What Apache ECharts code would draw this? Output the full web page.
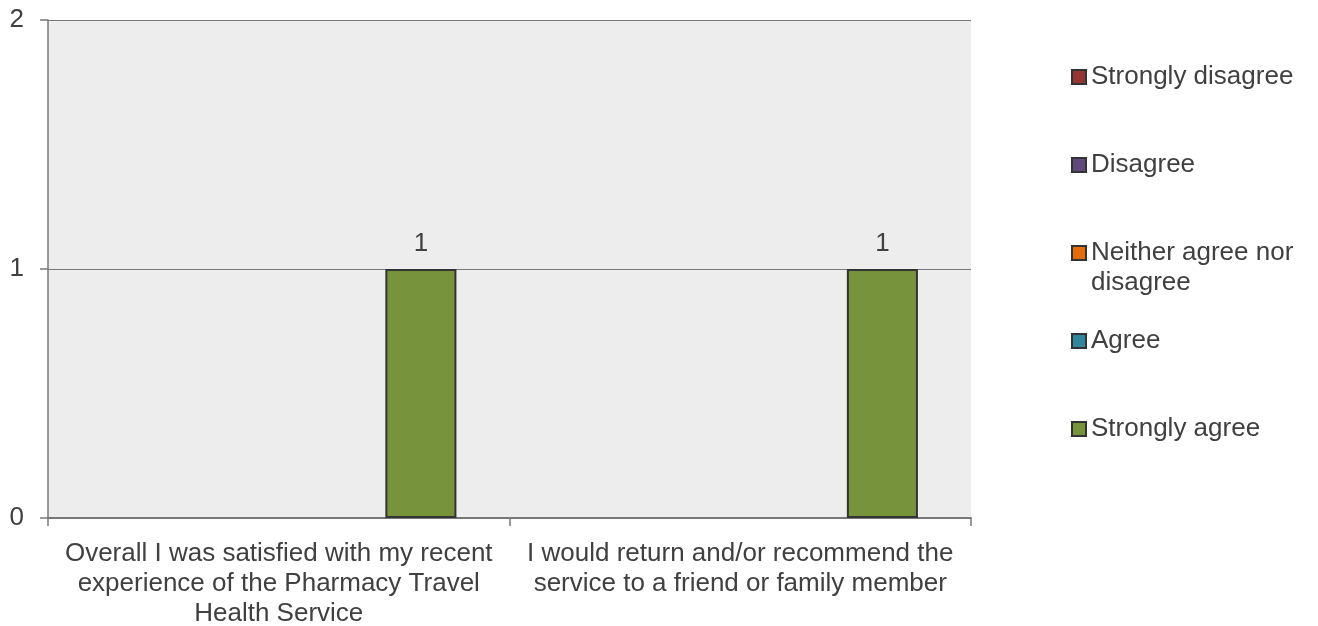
<!DOCTYPE html>
<html>
<head>
<meta charset="utf-8">
<script src="https://cdn.jsdelivr.net/npm/echarts@6/dist/echarts.min.js"></script>
<style>html,body{margin:0;padding:0;background:#fff}#c{width:1318px;height:626px}</style>
</head>
<body>
<div id="c"></div>
<script>
var categories = [
  "Overall I was satisfied with my recent\nexperience of the Pharmacy Travel\nHealth Service",
  "I would return and/or recommend the\nservice to a friend or family member"
];
var seriesNames = ["Strongly disagree", "Disagree", "Neither agree nor disagree", "Agree", "Strongly agree"];
var stronglyDisagree = [0, 0];
var disagree = [0, 0];
var neither = [0, 0];
var agree = [0, 0];
var stronglyAgree = [1, 1];
var seriesColors = ["#963634", "#604A7B", "#E46C0A", "#31859C", "#77933C"];
var yTicks = { min: 0, max: 2, interval: 1 };

var FONT = "Liberation Sans";
var TXT = "#404040";
var FS = 26;
var values = [stronglyDisagree, disagree, neither, agree, stronglyAgree];

var series = seriesNames.map(function (n, i) {
  return {
    name: n,
    type: "bar",
    barGap: 0,
    barCategoryGap: "23%",
    data: values[i].map(function (v) { return v === 0 ? "-" : v; }),
    itemStyle: { color: seriesColors[i], borderColor: "#333333", borderWidth: 2 },
    label: { show: true, position: "top", distance: 12, color: TXT, fontFamily: FONT, fontSize: FS },
    emphasis: { disabled: true }
  };
});

var legendCenters = [77, 165, 253, 341, 429];
var legends = seriesNames.map(function (n, i) {
  var two = (i === 2);
  return {
    data: [n],
    orient: "vertical",
    left: 1071,
    top: legendCenters[i] - 15,
    icon: "rect",
    itemWidth: 14,
    itemHeight: 14,
    itemGap: 0,
    padding: 0,
    selectedMode: false,
    formatter: two ? function () { return "Neither agree nor"; } : undefined,
    textStyle: { color: TXT, fontFamily: FONT, fontSize: FS, lineHeight: 30 }
  };
});

var chart = echarts.init(document.getElementById("c"), null, { renderer: "canvas" });
chart.setOption({
  animation: false,
  legend: legends,
  graphic: [{
    type: "text",
    left: 1091,
    top: 283 - 15,
    style: { text: "disagree", fill: TXT, font: FS + "px '" + FONT + "'", lineHeight: 30, verticalAlign: "top" }
  }],
  grid: { left: 48, right: 347, top: 20, bottom: 108, show: true, backgroundColor: "#EDEDED", borderWidth: 0, outerBoundsMode: "none", containLabel: false },
  xAxis: {
    type: "category",
    data: categories,
    axisLine: { show: true, lineStyle: { color: "#787878", width: 2 } },
    axisTick: { show: true, length: 8, lineStyle: { color: "#787878", width: 1.5 } },
    axisLabel: { color: TXT, fontFamily: FONT, fontSize: FS, lineHeight: 30, margin: 21, interval: 0 }
  },
  yAxis: {
    type: "value",
    min: yTicks.min, max: yTicks.max, interval: yTicks.interval,
    axisLine: { show: true, lineStyle: { color: "#787878", width: 1.5 } },
    axisTick: { show: true, length: 8, lineStyle: { color: "#787878", width: 1.5 } },
    axisLabel: { color: TXT, fontFamily: FONT, fontSize: FS, margin: 24, padding: [3, 0, 0, 0] },
    splitLine: { show: true, lineStyle: { color: "#787878", width: 1.2 } }
  },
  series: series
});
</script>
</body>
</html>
